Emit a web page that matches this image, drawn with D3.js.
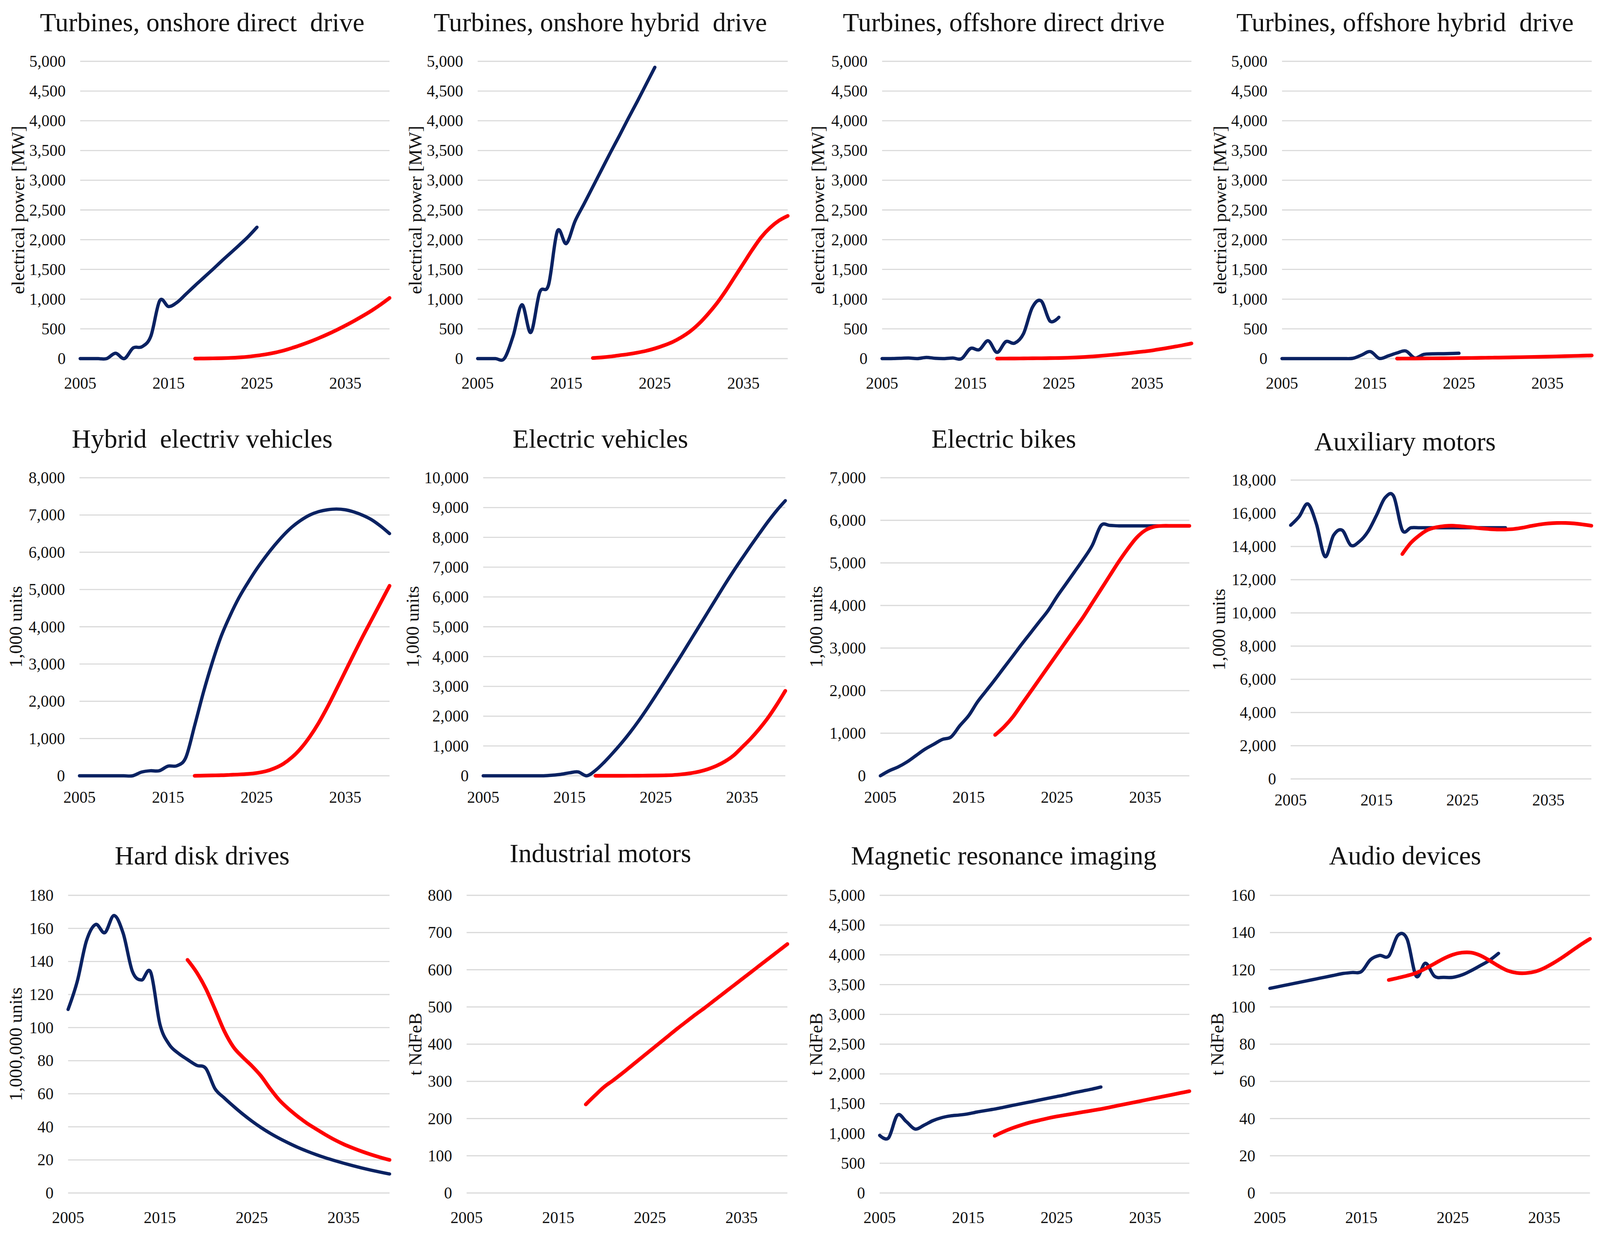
<!doctype html>
<html>
  <head>
    <script src="https://cdnjs.cloudflare.com/ajax/libs/d3/7.8.5/d3.min.js"></script>
    <style>
      html, body { margin: 0; padding: 0; background: #fff; overflow: hidden; }
      svg { display: block; }
      text { font-family: "Liberation Serif", "DejaVu Serif", serif; fill: #111; white-space: pre; }
      line.grid { stroke: #d9d9d9; }
      path.hist { fill: none; stroke: #0a2262; stroke-linecap: round; stroke-linejoin: round; }
      path.proj { fill: none; stroke: #ff0000; stroke-linecap: round; stroke-linejoin: round; }
    </style>
  </head>
  <body>
    <svg id="chart"></svg>
    <script>
      // panel texts
      var titles = [
        "Turbines, onshore direct  drive", "Turbines, onshore hybrid  drive",
        "Turbines, offshore direct drive", "Turbines, offshore hybrid  drive",
        "Hybrid  electriv vehicles", "Electric vehicles", "Electric bikes", "Auxiliary motors",
        "Hard disk drives", "Industrial motors", "Magnetic resonance imaging", "Audio devices"
      ];
      var unitLabels = [
        "electrical power [MW]", "electrical power [MW]", "electrical power [MW]", "electrical power [MW]",
        "1,000 units", "1,000 units", "1,000 units", "1,000 units",
        "1,000,000 units", "t NdFeB", "t NdFeB", "t NdFeB"
      ];
      var yMax  = [5000, 5000, 5000, 5000, 8000, 10000, 7000, 18000, 180, 800, 5000, 160];
      var yStep = [500, 500, 500, 500, 1000, 1000, 1000, 2000, 20, 100, 500, 20];
      var xTicks = [2005, 2015, 2025, 2035];
      var xDomain = [2005, 2040];

      // historical series start in 2005, projections start in 2018
      var histStart = 2005, projStart = 2018;

      var onshoreDirectHist = [0, 0, 0, 0, 90, 0, 180, 200, 380, 975, 875, 950, 1090, 1230, 1365, 1500, 1640, 1775, 1910, 2050, 2210];
      var onshoreDirectProj = [0, 2, 4, 7, 12, 20, 32, 50, 72, 100, 135, 180, 230, 285, 345, 410, 480, 555, 635, 720, 810, 910, 1020];

      var onshoreHybridHist = [0, 0, 0, 0, 380, 905, 440, 1115, 1240, 2145, 1935, 2315, 2600, 2890, 3180, 3470, 3750, 4040, 4320, 4610, 4900];
      var onshoreHybridProj = [10, 20, 35, 55, 75, 100, 130, 170, 220, 280, 360, 460, 590, 750, 930, 1140, 1370, 1600, 1830, 2040, 2200, 2320, 2400];

      var offshoreDirectHist = [0, 0, 5, 10, 0, 20, 5, 0, 10, 0, 170, 150, 300, 105, 285, 260, 420, 860, 970, 630, 695];
      var offshoreDirectProj = [0, 1, 2, 3, 5, 6, 8, 10, 14, 20, 28, 38, 50, 63, 78, 93, 110, 126, 148, 172, 198, 225, 255];

      var offshoreHybridHist = [0, 0, 0, 0, 0, 0, 0, 0, 5, 60, 118, 3, 45, 95, 128, 10, 70, 80, 82, 85, 90];
      var offshoreHybridProj = [0, 1, 2, 3, 4, 5, 6, 8, 10, 12, 14, 16, 18, 21, 24, 27, 30, 33, 37, 41, 45, 49, 53];

      var hevHist = [0, 0, 0, 0, 0, 0, 0, 100, 135, 135, 260, 270, 490, 1350, 2250, 3050, 3750, 4300, 4780, 5180, 5550,
                     5880, 6180, 6450, 6680, 6860, 7000, 7090, 7140, 7160, 7140, 7080, 6990, 6870, 6700, 6500];
      var hevProj = [0, 5, 10, 15, 25, 35, 50, 75, 120, 200, 320, 500, 740, 1050, 1420, 1850, 2320, 2800, 3280, 3750, 4200, 4650, 5100];

      var evHist = [0, 0, 0, 0, 0, 0, 0, 0, 20, 50, 100, 130, 0, 180, 450, 760, 1090, 1450, 1840, 2260, 2700,
                    3150, 3610, 4070, 4540, 5010, 5480, 5950, 6420, 6870, 7300, 7720, 8130, 8530, 8900, 9230];
      var evProj = [0, 0, 0, 1, 2, 4, 6, 10, 15, 25, 50, 85, 140, 220, 330, 480, 680, 960, 1250, 1580, 1950, 2380, 2850];

      var ebikeHist = [0, 118, 206, 323, 470, 618, 735, 853, 912, 1176, 1412, 1735, 2000, 2265, 2540, 2812, 3088, 3353, 3618, 3882,
                       4206, 4500, 4794, 5088, 5412, 5880, 5880, 5870, 5870, 5870, 5870, 5870, 5870, 5870, 5870, 5870];
      var ebikeProj = [960, 1147, 1382, 1676, 1970, 2265, 2559, 2853, 3147, 3441, 3735, 4059, 4382, 4706, 5029, 5324, 5588, 5765, 5850, 5870, 5870, 5870, 5870];

      var auxHist = [15280, 15810, 16565, 15357, 13394, 14678, 14980, 14074, 14300, 14900, 15886, 16943, 17018, 14980, 15130,
                     15130, 15130, 15130, 15130, 15130, 15130, 15130, 15130, 15130, 15130, 15130];
      var auxProj = [13545, 14225, 14678, 15010, 15160, 15236, 15251, 15206, 15160, 15100, 15055, 15025, 15025, 15055, 15130,
                     15236, 15327, 15387, 15417, 15417, 15387, 15327, 15251];

      var hddHist = [111, 128, 152.5, 162.4, 157.4, 167.8, 157, 134, 128.8, 133.4, 102, 89.9, 84.5, 80.7, 77.2, 75.3, 63, 57.5, 52.5, 47.8, 43.5,
                     39.6, 36.1, 33, 30.2, 27.6, 25.3, 23.2, 21.3, 19.6, 18, 16.5, 15.1, 13.8, 12.6, 11.5];
      var hddProj = [141, 133.4, 123.5, 111, 98, 88.3, 82.2, 76.9, 70.8, 63.1, 56.2, 50.9, 46.3, 42.2, 38.7, 35.3, 32.2, 29.5,
                     27.2, 25.1, 23.2, 21.5, 20];

      var industrialHist = [];
      var industrialProj = [238, 262, 285, 303, 322, 342, 362, 382, 402, 422, 442, 461, 480, 498, 517, 536, 555, 574, 593, 612, 631, 650, 669];

      var mriHist = [968, 925, 1307, 1201, 1074, 1138, 1214, 1265, 1295, 1310, 1330, 1360, 1385, 1410, 1440, 1470, 1500, 1530,
                     1560, 1590, 1620, 1650, 1685, 1715, 1745, 1780];
      var mriProj = [960, 1030, 1090, 1140, 1185, 1220, 1255, 1285, 1310, 1335, 1360, 1385, 1410, 1440, 1470, 1500, 1530, 1560,
                     1590, 1620, 1650, 1680, 1710];

      var audioHist = [110, 111, 112, 113, 114, 115, 116, 117, 118, 118.5, 119, 125.4, 127.7, 127.4, 138.5, 136.5, 116.5, 123.5,
                       116.5, 115.9, 115.9, 117.2, 119.5, 122.2, 125, 128.8];
      var audioProj = [114.5, 115.6, 116.8, 118.3, 120.6, 123.3, 126, 128.1, 129.2, 129.2, 127.7, 125, 122, 119.5, 118.3, 118.2,
                       119, 120.9, 123.6, 126.7, 130.1, 133.5, 136.6];

      var histSeries = [onshoreDirectHist, onshoreHybridHist, offshoreDirectHist, offshoreHybridHist,
                        hevHist, evHist, ebikeHist, auxHist, hddHist, industrialHist, mriHist, audioHist];
      var projSeries = [onshoreDirectProj, onshoreHybridProj, offshoreDirectProj, offshoreHybridProj,
                        hevProj, evProj, ebikeProj, auxProj, hddProj, industrialProj, mriProj, audioProj];

      // page layout of the twelve panels on a 4629 x 3159 design grid
      var layout = [
        {x0: 232,  x1: 1127, y0: 157,  y1: 918,  tx: 585,  ty: 80,   lx: 52,   xly: 995},
        {x0: 1382, x1: 2279, y0: 157,  y1: 918,  tx: 1737, ty: 80,   lx: 1201, xly: 995},
        {x0: 2552, x1: 3447, y0: 157,  y1: 918,  tx: 2904, ty: 80,   lx: 2366, xly: 995},
        {x0: 3709, x1: 4605, y0: 157,  y1: 918,  tx: 4065, ty: 80,   lx: 3529, xly: 995},
        {x0: 230,  x1: 1127, y0: 1223, y1: 1986, tx: 585,  ty: 1146, lx: 45,   xly: 2055},
        {x0: 1398, x1: 2272, y0: 1223, y1: 1986, tx: 1737, ty: 1146, lx: 1193, xly: 2055},
        {x0: 2547, x1: 3441, y0: 1223, y1: 1986, tx: 2904, ty: 1146, lx: 2361, xly: 2055},
        {x0: 3734, x1: 4604, y0: 1229, y1: 1994, tx: 4065, ty: 1153, lx: 3526, xly: 2062},
        {x0: 197,  x1: 1127, y0: 2292, y1: 3054, tx: 585,  ty: 2213, lx: 45,   xly: 3131},
        {x0: 1350, x1: 2278, y0: 2292, y1: 3054, tx: 1737, ty: 2207, lx: 1201, xly: 3131},
        {x0: 2545, x1: 3441, y0: 2292, y1: 3054, tx: 2904, ty: 2213, lx: 2361, xly: 3131},
        {x0: 3674, x1: 4600, y0: 2292, y1: 3054, tx: 4065, ty: 2213, lx: 3522, xly: 3131}
      ];

      // fit the design grid to the actual viewport
      var W = window.innerWidth || 4629, H = window.innerHeight || 3159;
      var sx = W / 4629, sy = H / 3159, f = Math.sqrt(sx * sy);

      var svg = d3.select("#chart").attr("width", W).attr("height", H);
      svg.append("rect").attr("width", W).attr("height", H).attr("fill", "#fff");

      var fmt = d3.format(",");

      function toPoints(values, start) {
        return values.map(function (v, i) { return {year: start + i, value: v}; });
      }

      layout.forEach(function (L, i) {
        var x = d3.scaleLinear().domain(xDomain).range([L.x0 * sx, L.x1 * sx]);
        var y = d3.scaleLinear().domain([0, yMax[i]]).range([L.y1 * sy, L.y0 * sy]);
        var g = svg.append("g");
        var yTicks = d3.range(0, yMax[i] + yStep[i] / 2, yStep[i]);

        g.selectAll("line.grid").data(yTicks).enter().append("line")
          .attr("class", "grid")
          .attr("stroke-width", 3 * f)
          .attr("x1", x.range()[0]).attr("x2", x.range()[1])
          .attr("y1", function (d) { return y(d); })
          .attr("y2", function (d) { return y(d); });

        g.selectAll("text.ytick").data(yTicks).enter().append("text")
          .attr("font-size", 44 * f)
          .attr("x", x.range()[0] - 42 * sx)
          .attr("y", function (d) { return y(d); })
          .attr("dy", "0.34em")
          .attr("text-anchor", "end")
          .text(function (d) { return fmt(d); });

        g.selectAll("text.xtick").data(xTicks).enter().append("text")
          .attr("font-size", 44 * f)
          .attr("x", function (d) { return x(d); })
          .attr("y", L.xly * sy)
          .attr("text-anchor", "middle")
          .text(function (d) { return d; });

        g.append("text")
          .attr("font-size", 72 * f)
          .attr("x", L.tx * sx).attr("y", L.ty * sy)
          .attr("text-anchor", "middle")
          .text(titles[i]);

        g.append("text")
          .attr("font-size", 50 * f)
          .attr("transform", "translate(" + (L.lx * sx) + "," + ((L.y0 + L.y1) / 2 * sy) + ") rotate(-90)")
          .attr("text-anchor", "middle")
          .attr("dominant-baseline", "central")
          .text(unitLabels[i]);

        var line = d3.line()
          .x(function (d) { return x(d.year); })
          .y(function (d) { return y(d.value); })
          .curve(d3.curveCatmullRom.alpha(0));

        if (histSeries[i].length) {
          g.append("path").attr("class", "hist").attr("stroke-width", 9 * f)
            .attr("d", line(toPoints(histSeries[i], histStart)));
        }
        if (projSeries[i].length) {
          g.append("path").attr("class", "proj").attr("stroke-width", 10 * f)
            .attr("d", line(toPoints(projSeries[i], projStart)));
        }
      });
    </script>
  </body>
</html>
